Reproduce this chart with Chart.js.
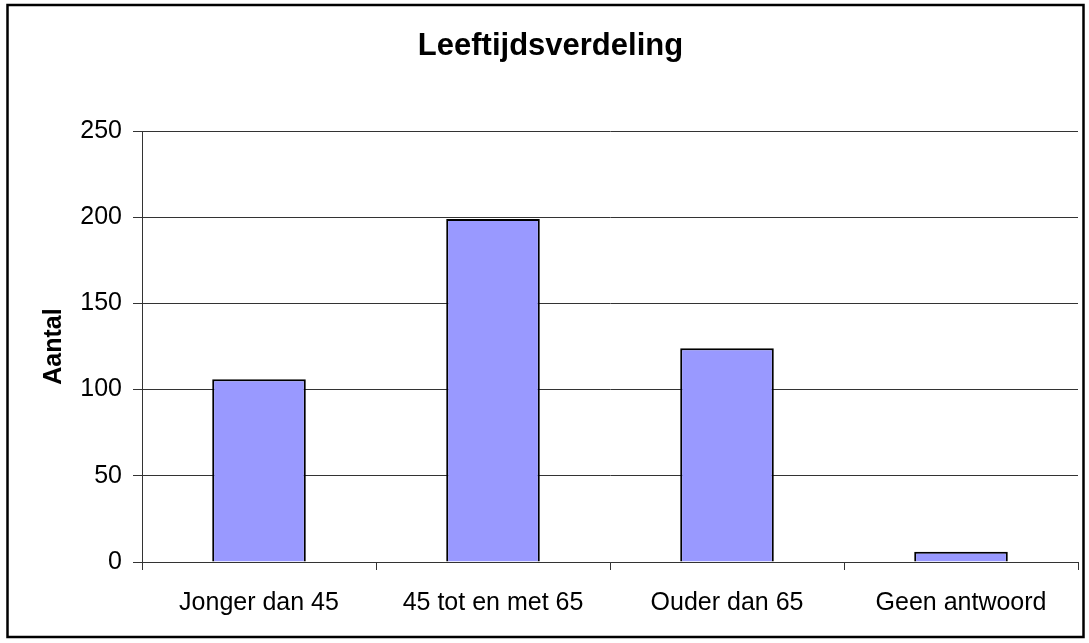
<!DOCTYPE html>
<html>
<head>
<meta charset="utf-8">
<script src="https://cdn.jsdelivr.net/npm/chart.js@4.4.1/dist/chart.umd.min.js"></script>
<style>
  body { margin: 0; background: #fff; }
  #wrap { position: relative; width: 1089px; height: 643px; }
</style>
</head>
<body>
<div id="wrap"><canvas id="ageChart"></canvas></div>
<script>
const categories = ['Jonger dan 45', '45 tot en met 65', 'Ouder dan 65', 'Geen antwoord'];
const counts = [106, 199, 124, 6];
const yTicks = [0, 50, 100, 150, 200, 250];

const fontFamily = "'Liberation Sans', Arial, sans-serif";

// white background plus the black frame round the whole chart
const framePlugin = {
    id: 'frame',
    beforeDraw(chart) {
        const ctx = chart.ctx;
        ctx.save();
        ctx.fillStyle = '#fff';
        ctx.fillRect(0, 0, chart.width, chart.height);
        ctx.restore();
    },
    afterDraw(chart) {
        const ctx = chart.ctx;
        ctx.save();
        ctx.strokeStyle = '#000';
        ctx.lineWidth = 2.5;
        ctx.strokeRect(7.5, 5, 1076, 632);
        ctx.restore();
    }
};

new Chart(document.getElementById('ageChart'), {
    type: 'bar',
    data: {
        labels: categories,
        datasets: [{
            label: 'Aantal',
            data: counts,
            backgroundColor: '#9999FF',
            borderColor: '#000',
            borderWidth: 2,
            categoryPercentage: 1.0,
            barPercentage: 0.4
        }]
    },
    options: {
        responsive: true,
        maintainAspectRatio: false,
        animation: false,
        layout: {
            padding: { left: 23, right: 11, top: 0, bottom: 0 }
        },
        plugins: {
            legend: { display: false },
            tooltip: { enabled: false },
            title: {
                display: true,
                text: 'Leeftijdsverdeling',
                color: '#000',
                font: { family: fontFamily, size: 31, weight: 'bold' },
                padding: { top: 28, bottom: 65.8 }
            }
        },
        scales: {
            x: {
                grid: {
                    offset: true,
                    drawOnChartArea: false,
                    drawTicks: true,
                    tickLength: 8,
                    color: '#333'
                },
                border: { display: true, color: '#333', width: 1 },
                ticks: {
                    color: '#000',
                    padding: 18,
                    maxRotation: 0,
                    font: { family: fontFamily, size: 25 }
                },
                afterFit(scale) { scale.height = 81; }
            },
            y: {
                min: 0,
                max: 250,
                afterBuildTicks(scale) {
                    scale.ticks = yTicks.map(v => ({ value: v }));
                },
                grid: {
                    color: '#333',
                    tickLength: 9,
                    drawTicks: true
                },
                border: { display: true, color: '#333', width: 1 },
                ticks: {
                    color: '#000',
                    padding: 11,
                    font: { family: fontFamily, size: 25 }
                },
                title: {
                    display: true,
                    text: 'Aantal',
                    color: '#000',
                    font: { family: fontFamily, size: 25, weight: 'bold' },
                    padding: { top: 16, bottom: 0 }
                },
                afterFit(scale) { scale.width = 119; }
            }
        }
    },
    plugins: [framePlugin]
});
</script>
</body>
</html>
